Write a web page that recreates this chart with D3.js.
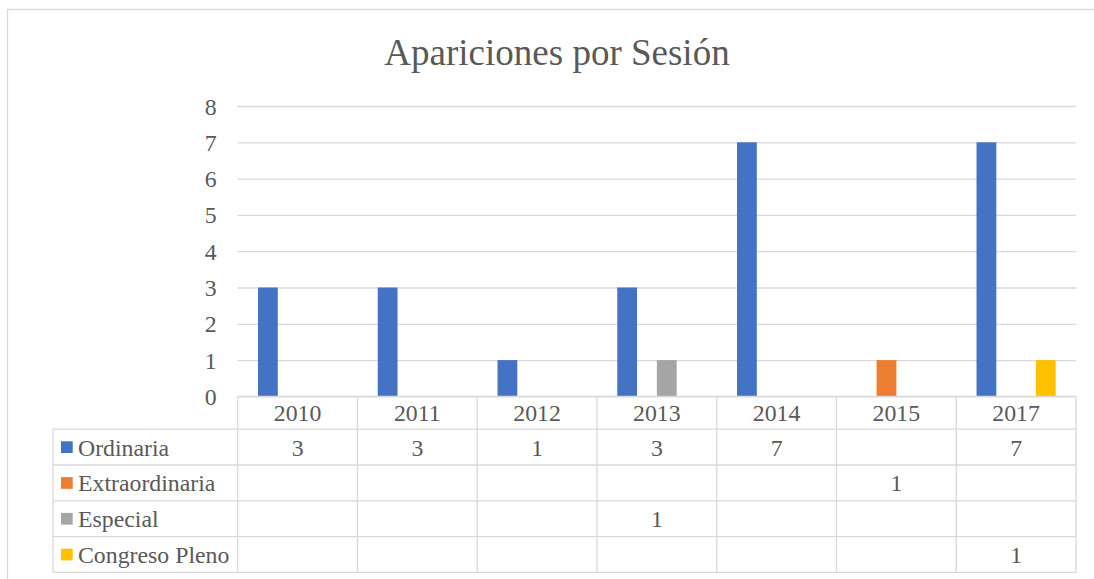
<!DOCTYPE html>
<html>
<head>
<meta charset="utf-8">
<script src="https://cdn.jsdelivr.net/npm/d3@7"></script>
<style>
  body { margin: 0; background: #fff; }
  svg { display: block; font-family: "Liberation Serif", "Times New Roman", serif; }
</style>
</head>
<body>
<div id="chart"></div>
<script>
// data
var years = ["2010", "2011", "2012", "2013", "2014", "2015", "2017"];
var seriesNames = ["Ordinaria", "Extraordinaria", "Especial", "Congreso Pleno"];
var ordinaria = [3, 3, 1, 3, 7, null, 7];
var extraordinaria = [null, null, null, null, null, 1, null];
var especial = [null, null, null, 1, null, null, null];
var congresoPleno = [null, null, null, null, null, null, 1];
var seriesColors = ["#4472C4", "#ED7D31", "#A5A5A5", "#FFC000"];
var yTicks = [0, 1, 2, 3, 4, 5, 6, 7, 8];

var seriesValues = [ordinaria, extraordinaria, especial, congresoPleno];

var width = 1094, height = 579;
var plot = {left: 237.7, right: 1076, top: 106, bottom: 396.4};
var legendLeft = 53;
var headerH = 32.8;
var rowH = 35.8;
var gridColor = "#D9D9D9";
var textColor = "#595959";
var fontSize = 23.8;

var svg = d3.select("#chart").append("svg")
    .attr("width", width)
    .attr("height", height);

// outer chart border (runs off the right and bottom edges)
svg.append("rect")
    .attr("x", 7.5).attr("y", 9.5)
    .attr("width", 1200).attr("height", 700)
    .attr("fill", "#fff")
    .attr("stroke", gridColor)
    .attr("stroke-width", 1.3);

// title
svg.append("text")
    .attr("x", 557)
    .attr("y", 65)
    .attr("text-anchor", "middle")
    .attr("fill", textColor)
    .style("font-size", "37px")
    .text("Apariciones por Sesión");

var y = d3.scaleLinear().domain([0, 8]).range([plot.bottom, plot.top]);

var x0 = d3.scaleBand().domain(years).range([plot.left, plot.right]).padding(0);
var x1 = d3.scaleBand().domain(seriesNames).range([0, x0.bandwidth()])
    .paddingInner(0).paddingOuter(1.025);

// gridlines + tick labels
var yAxis = d3.axisLeft(y)
    .tickValues(yTicks)
    .tickSize(-(plot.right - plot.left))
    .tickPadding(21)
    .tickFormat(d3.format("d"));

var gy = svg.append("g")
    .attr("transform", "translate(" + plot.left + ",0)")
    .call(yAxis)
    .attr("font-family", null)
    .attr("font-size", null);
gy.select(".domain").remove();
gy.selectAll(".tick line").attr("stroke", gridColor).attr("stroke-width", 1.3);
gy.selectAll(".tick text")
    .attr("fill", textColor)
    .attr("dy", "0.34em")
    .style("font-size", fontSize + "px");

// bars
var barData = [];
seriesValues.forEach(function(vals, s){
    vals.forEach(function(v, i){
        if (v != null) {
            barData.push({year: years[i], series: seriesNames[s], value: v, color: seriesColors[s]});
        }
    });
});

svg.append("g").selectAll("rect")
    .data(barData)
    .enter().append("rect")
    .attr("x", function(d){ return x0(d.year) + x1(d.series); })
    .attr("y", function(d){ return y(d.value); })
    .attr("width", x1.bandwidth())
    .attr("height", function(d){ return y(0) - y(d.value); })
    .attr("fill", function(d){ return d.color; });

// data table below the plot
var table = svg.append("g");
var headerTop = plot.bottom;
var rowsTop = headerTop + headerH;
var tableBottom = rowsTop + rowH * seriesNames.length;

// horizontal lines
table.append("line")
    .attr("x1", plot.left).attr("x2", plot.right)
    .attr("y1", headerTop).attr("y2", headerTop);
for (var r = 0; r <= seriesNames.length; r++) {
    table.append("line")
        .attr("x1", legendLeft).attr("x2", plot.right)
        .attr("y1", rowsTop + r * rowH).attr("y2", rowsTop + r * rowH);
}
// vertical lines
years.forEach(function(yr){
    table.append("line")
        .attr("x1", x0(yr)).attr("x2", x0(yr))
        .attr("y1", headerTop).attr("y2", tableBottom);
});
table.append("line")
    .attr("x1", plot.right).attr("x2", plot.right)
    .attr("y1", headerTop).attr("y2", tableBottom);
table.append("line")
    .attr("x1", legendLeft).attr("x2", legendLeft)
    .attr("y1", rowsTop).attr("y2", tableBottom);
table.selectAll("line").attr("stroke", gridColor).attr("stroke-width", 1.3);

// year labels
table.selectAll("text.year")
    .data(years)
    .enter().append("text")
    .attr("class", "year")
    .attr("x", function(d){ return x0(d) + x0.bandwidth() / 2; })
    .attr("y", headerTop + headerH / 2 + 8.3)
    .attr("text-anchor", "middle")
    .attr("fill", textColor)
    .style("font-size", fontSize + "px")
    .text(function(d){ return d; });

// legend entries + values
seriesNames.forEach(function(name, s){
    var cy = rowsTop + rowH * s + rowH / 2;
    table.append("rect")
        .attr("x", 61).attr("y", cy - 5.8)
        .attr("width", 11.7).attr("height", 11.7)
        .attr("fill", seriesColors[s]);
    table.append("text")
        .attr("x", 78).attr("y", cy + 8.5)
        .attr("fill", textColor)
        .style("font-size", fontSize + "px")
        .text(name);
    seriesValues[s].forEach(function(v, i){
        if (v == null) return;
        table.append("text")
            .attr("x", x0(years[i]) + x0.bandwidth() / 2)
            .attr("y", cy + 8.5)
            .attr("text-anchor", "middle")
            .attr("fill", textColor)
            .style("font-size", fontSize + "px")
            .text(v);
    });
});
</script>
</body>
</html>
